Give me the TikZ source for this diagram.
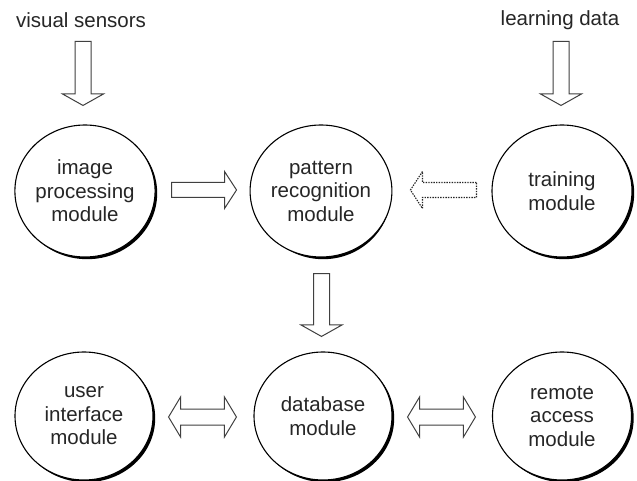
\documentclass[tikz,border=0pt]{standalone}
\usepackage{fontspec}
\setmainfont{Liberation Sans}
\usetikzlibrary{calc,shapes.geometric}

% hollow block arrows (tail point, tip point)
\newcommand\harrow[3][]{%
  \draw[blockarrow,#1] let \p1=(#2), \p2=(#3), \p3=($(#3)!12pt!(#2)$) in
    (\x1,\y1+7.5pt) -- (\x3,\y1+7.5pt) -- (\x3,\y1+18.5pt)
    -- (\x2,\y1) -- (\x3,\y1-18.5pt) -- (\x3,\y1-7.5pt)
    -- (\x1,\y1-7.5pt) -- cycle;}
\newcommand\varrow[3][]{%
  \draw[blockarrow,#1] let \p1=(#2), \p2=(#3) in
    (\x1-8pt,\y1) -- (\x1-8pt,\y2+11.5pt) -- (\x1-20.5pt,\y2+11.5pt)
    -- (\x1,\y2) -- (\x1+20.5pt,\y2+11.5pt) -- (\x1+8pt,\y2+11.5pt)
    -- (\x1+8pt,\y1) -- cycle;}
\newcommand\dharrow[3][]{%
  \draw[blockarrow,#1] let \p1=(#2), \p2=(#3) in
    (\x1,\y1) -- (\x1+12pt,\y1+20pt) -- (\x1+12pt,\y1+8pt) -- (\x2-12pt,\y1+8pt)
    -- (\x2-12pt,\y1+20pt) -- (\x2,\y1) -- (\x2-12pt,\y1-20pt) -- (\x2-12pt,\y1-8pt)
    -- (\x1+12pt,\y1-8pt) -- (\x1+12pt,\y1-20pt) -- cycle;}

\tikzset{
  module/.style={ellipse, draw=black, line width=1.1pt, fill=white, inner sep=0pt,
    align=center, text=black!85, font=\fontsize{20.5}{23.5}\selectfont,
    minimum width=#1, minimum height=132pt},
  modshadow/.style={ellipse, fill=black, inner sep=0pt,
    minimum width=#1, minimum height=132pt},
  label/.style={text=black!85, font=\fontsize{20.5}{24}\selectfont, inner sep=0pt},
  blockarrow/.style={draw=black!75, line width=1pt, fill=white, line join=miter},
}

\begin{document}
\begin{tikzpicture}[x=1pt,y=-1pt]
\useasboundingbox[fill=white] (0,0) rectangle (637,481);

% shadows under the module ellipses
\foreach \px/\py/\w/\h in {85/191/140/132, 321/191/136/132, 562/191/140/132,
                           84/416/138/128, 323/416/138/128, 562/416/139/128}
  \node[modshadow=\w pt, minimum height=\h pt] at (\px+2.2,\py+2.2) {};

% modules
\node[module=140pt] (img) at (85,191) {image\\processing\\module};
\node[module=136pt] (pat) at (321,191) {pattern\\recognition\\module};
\node[module=140pt] (trn) at (562,191) {training\\module};
\node[module=138pt, minimum height=128pt] (ui) at (84,416) {user\\interface\\module};
\node[module=138pt, minimum height=128pt] (db) at (323,416) {database\\module};
\node[module=139pt, minimum height=128pt] (rem) at (562,416) {remote\\access\\module};

% inputs
\node[label] (vs) at (81,20) {visual sensors};
\node[label] (ld) at (560,20) {learning data};

% connectors
\coordinate (vsA) at ($(img.north)+(-2,-83)$);
\coordinate (vsB) at ($(img.north)+(-2,-19)$);
\varrow{vsA}{vsB}
\coordinate (ldA) at ($(trn.north)+(-1,-83)$);
\coordinate (ldB) at ($(trn.north)+(-1,-19)$);
\varrow{ldA}{ldB}

\coordinate (ipA) at ($(img.east)+(16,-1)$);
\coordinate (ipB) at ($(pat.west)+(-13,-1)$);
\harrow{ipA}{ipB}

\coordinate (tpA) at ($(trn.west)+(-15,-1)$);
\coordinate (tpB) at ($(pat.east)+(18,-1)$);
\harrow[draw=black!85, line width=1.1pt, dash pattern=on 1.4pt off 1.2pt]{tpA}{tpB}

\coordinate (pdA) at ($(pat.south)+(0.5,16)$);
\coordinate (pdB) at ($(db.north)+(-1.5,-15)$);
\varrow{pdA}{pdB}

\coordinate (udA) at ($(ui.east)+(15,1)$);
\coordinate (udB) at ($(db.west)+(-17,1)$);
\dharrow{udA}{udB}

\coordinate (drA) at ($(db.east)+(15,1)$);
\coordinate (drB) at ($(rem.west)+(-16.5,1)$);
\dharrow{drA}{drB}
\end{tikzpicture}
\end{document}
